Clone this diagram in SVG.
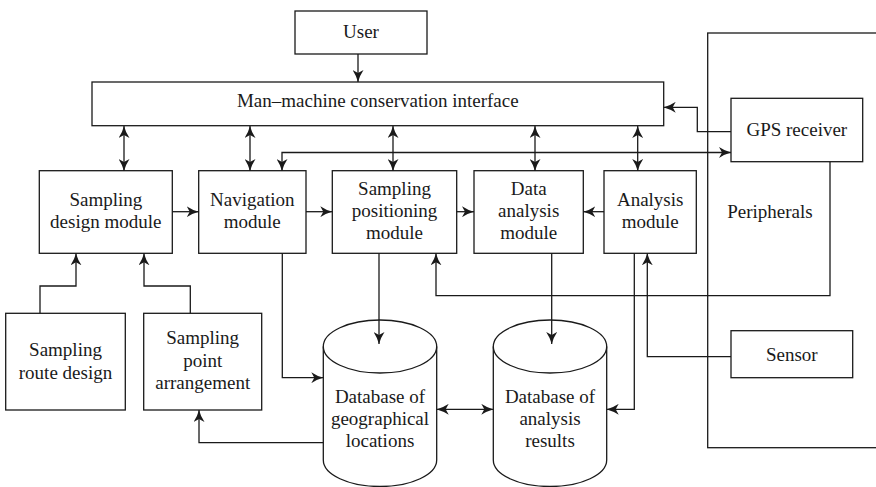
<svg xmlns="http://www.w3.org/2000/svg" width="876" height="487" viewBox="0 0 876 487">
<style>
.b{fill:#fff;stroke:#1a1a1a;stroke-width:1.3}
.o{fill:none;stroke:#1a1a1a;stroke-width:1.3}
.c{fill:none;stroke:#1a1a1a;stroke-width:1.3}
text{font-family:"Liberation Serif","Times New Roman",serif;font-size:19px;fill:#1a1a1a;text-anchor:middle}
</style>
<defs>
<marker id="ah" viewBox="0 0 12 11" refX="12" refY="5.5" markerWidth="12" markerHeight="11" markerUnits="userSpaceOnUse" orient="auto-start-reverse">
<path d="M0,0 Q6,4 12,5.5 Q6,7 0,11 L3,5.5 Z" fill="#1a1a1a"/>
</marker>
</defs>
<rect width="876" height="487" fill="#fff"/>

<g id="peripherals">
<rect class="o" x="707.7" y="33" width="200" height="414.7"/>
<text x="770" y="217.5">Peripherals</text>
</g>

<g id="user">
<rect class="b" x="295" y="11" width="132" height="43"/>
<text x="361" y="38">User</text>
</g>

<g id="interface">
<rect class="b" x="92" y="82" width="571.7" height="43.7"/>
<text x="377.8" y="107">Man–machine conservation interface</text>
</g>

<g id="gps">
<rect class="b" x="731" y="98.3" width="131.7" height="63.4"/>
<text x="796.8" y="136">GPS receiver</text>
</g>

<g id="design">
<rect class="b" x="39.3" y="170.7" width="133" height="82.6"/>
<text x="105.8" y="206">Sampling</text>
<text x="105.8" y="228">design module</text>
</g>

<g id="navigation">
<rect class="b" x="198.7" y="170.7" width="107.3" height="82.6"/>
<text x="252.3" y="206">Navigation</text>
<text x="252.3" y="228">module</text>
</g>

<g id="positioning">
<rect class="b" x="332.3" y="170.7" width="124.4" height="82.6"/>
<text x="394.5" y="195">Sampling</text>
<text x="394.5" y="217">positioning</text>
<text x="394.5" y="239">module</text>
</g>

<g id="data">
<rect class="b" x="474" y="170.7" width="109.3" height="82.6"/>
<text x="528.7" y="195">Data</text>
<text x="528.7" y="217">analysis</text>
<text x="528.7" y="239">module</text>
</g>

<g id="analysis">
<rect class="b" x="604" y="170.7" width="92.3" height="82.6"/>
<text x="650.2" y="206">Analysis</text>
<text x="650.2" y="228">module</text>
</g>

<g id="sensor">
<rect class="b" x="731" y="330.7" width="121.7" height="47"/>
<text x="791.8" y="361">Sensor</text>
</g>

<g id="route">
<rect class="b" x="5.7" y="313.3" width="119.6" height="96.7"/>
<text x="65.5" y="356">Sampling</text>
<text x="65.5" y="378.5">route design</text>
</g>

<g id="point">
<rect class="b" x="143.7" y="313.3" width="118" height="96.7"/>
<text x="202.7" y="344">Sampling</text>
<text x="202.7" y="366.5">point</text>
<text x="202.7" y="389">arrangement</text>
</g>

<g id="db-geo">
<path class="b" d="M323.3,346.5 A56.7,26.5 0 0 1 436.7,346.5 V460 A56.7,26.5 0 0 1 323.3,460 Z"/>
<path class="o" d="M323.3,346.5 A56.7,26.5 0 0 0 436.7,346.5"/>
<text x="380" y="402.5">Database of</text>
<text x="380" y="424.5">geographical</text>
<text x="380" y="446.5">locations</text>
</g>

<g id="db-results">
<path class="b" d="M493.3,346.5 A56.7,26.5 0 0 1 606.7,346.5 V460 A56.7,26.5 0 0 1 493.3,460 Z"/>
<path class="o" d="M493.3,346.5 A56.7,26.5 0 0 0 606.7,346.5"/>
<text x="550" y="402.5">Database of</text>
<text x="550" y="424.5">analysis</text>
<text x="550" y="446.5">results</text>
</g>

<g id="connectors">
<path class="c" d="M358,54 V82" marker-end="url(#ah)"/>
<path class="c" d="M124,126 V171" marker-start="url(#ah)" marker-end="url(#ah)"/>
<path class="c" d="M250,126 V171" marker-start="url(#ah)" marker-end="url(#ah)"/>
<path class="c" d="M393,126 V171" marker-start="url(#ah)" marker-end="url(#ah)"/>
<path class="c" d="M535,126 V171" marker-start="url(#ah)" marker-end="url(#ah)"/>
<path class="c" d="M637.7,126 V171" marker-start="url(#ah)" marker-end="url(#ah)"/>
<path class="c" d="M282,171 V152.5 H731" marker-start="url(#ah)" marker-end="url(#ah)"/>
<path class="c" d="M731,131.7 H697.3 V107.3 H663.7" marker-end="url(#ah)"/>
<path class="c" d="M172.3,211.7 H198.7" marker-end="url(#ah)"/>
<path class="c" d="M306,211.7 H332.3" marker-end="url(#ah)"/>
<path class="c" d="M456.7,211.7 H474" marker-end="url(#ah)"/>
<path class="c" d="M604,211.7 H583.3" marker-end="url(#ah)"/>
<path class="c" d="M830,161.7 V295.7 H436 V253.3" marker-end="url(#ah)"/>
<path class="c" d="M731,356.7 H647.3 V253.3" marker-end="url(#ah)"/>
<path class="c" d="M634.3,253.3 V409.3 H606.7" marker-end="url(#ah)"/>
<path class="c" d="M551.7,253.3 V344" marker-end="url(#ah)"/>
<path class="c" d="M379,253.3 V344" marker-end="url(#ah)"/>
<path class="c" d="M282.3,253.3 V377.7 H323.3" marker-end="url(#ah)"/>
<path class="c" d="M436.7,409.3 H493.3" marker-start="url(#ah)" marker-end="url(#ah)"/>
<path class="c" d="M323.3,442.7 H199 V410" marker-end="url(#ah)"/>
<path class="c" d="M40,313.3 V286 H76 V253.3" marker-end="url(#ah)"/>
<path class="c" d="M190.3,313.3 V286 H144 V253.3" marker-end="url(#ah)"/>
</g>
</svg>
